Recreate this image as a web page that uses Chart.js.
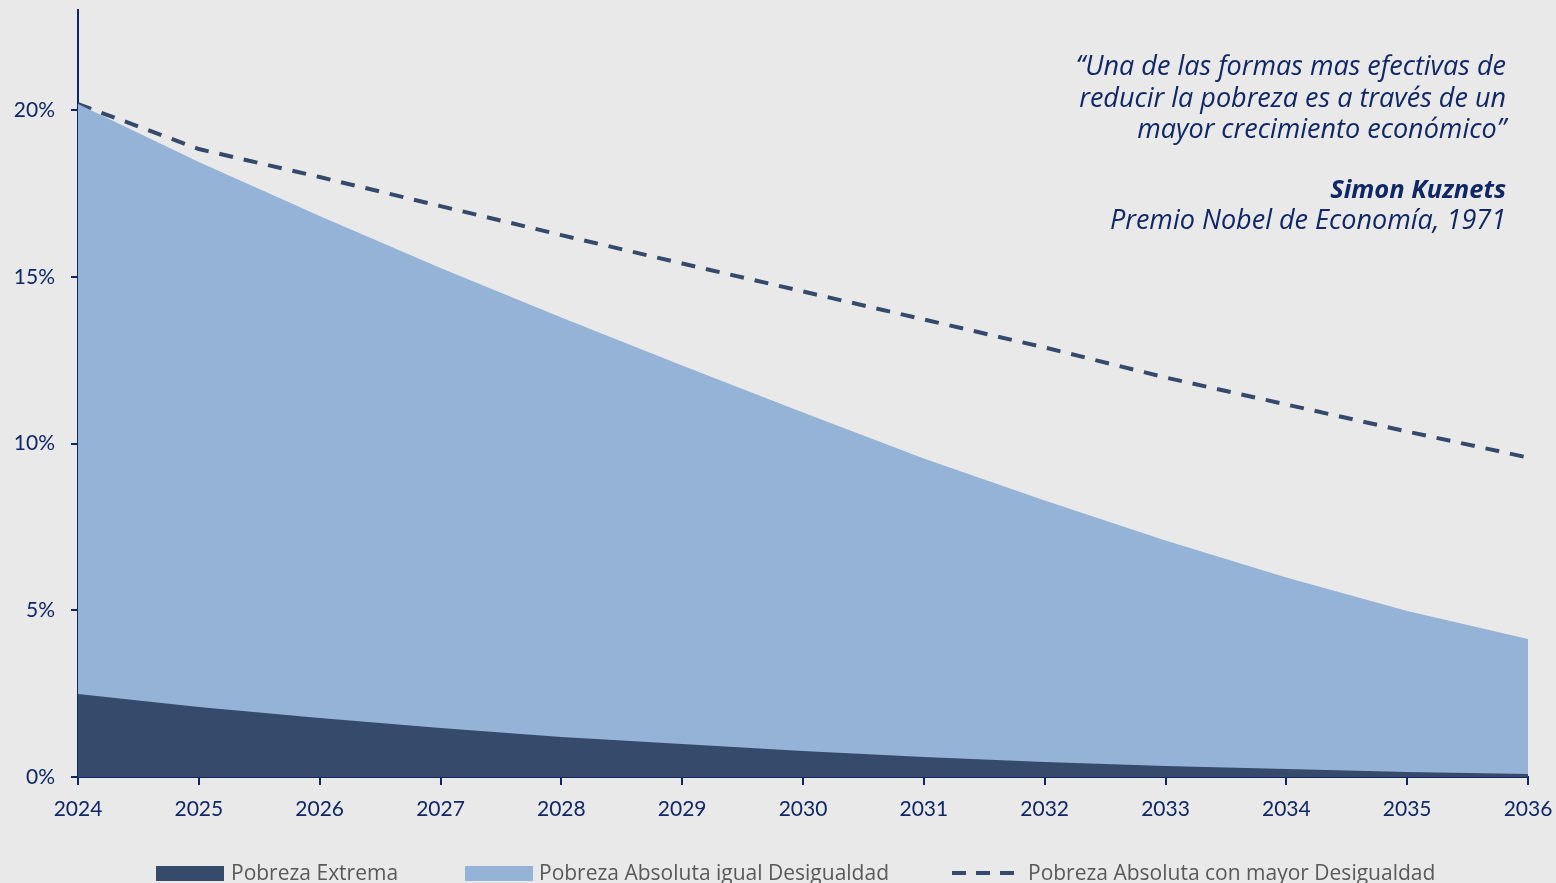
<!DOCTYPE html>
<html>
<head>
<meta charset="utf-8">
<script src="https://cdn.jsdelivr.net/npm/chart.js@4"></script>
<style>
  html, body { margin: 0; padding: 0; background: #E9E9E9; }
  #wrap { width: 1556px; height: 883px; position: relative; }
</style>
</head>
<body>
<div id="wrap"><canvas id="c" width="1556" height="883"></canvas></div>
<script>
const years = ['2024','2025','2026','2027','2028','2029','2030','2031','2032','2033','2034','2035','2036'];
const pobrezaExtrema = [2.49, 2.10, 1.77, 1.47, 1.20, 0.99, 0.78, 0.60, 0.45, 0.33, 0.24, 0.15, 0.09];
const pobrezaAbsIgual = [20.18, 18.44, 16.82, 15.26, 13.78, 12.34, 10.93, 9.55, 8.29, 7.09, 5.98, 4.98, 4.14];
const pobrezaAbsMayor = [20.18, 18.83, 17.99, 17.12, 16.25, 15.40, 14.56, 13.72, 12.88, 11.98, 11.17, 10.36, 9.58];
const seriesLabels = ['Pobreza Extrema', 'Pobreza Absoluta igual Desigualdad', 'Pobreza Absoluta con mayor Desigualdad'];
const yTickValues = [0, 5, 10, 15, 20];
const quoteLines = ['\u201CUna de las formas mas efectivas de', 'reducir la pobreza es a trav\u00E9s de un', 'mayor crecimiento econ\u00F3mico\u201D'];
const authorName = 'Simon Kuznets';
const authorTitle = 'Premio Nobel de Econom\u00EDa, 1971';

const NAVY = '#0F2766';
const FONT = 'Lato, "Open Sans", sans-serif';
const QFONT = '"Open Sans", Lato, sans-serif';

const bgPlugin = {
  id: 'bg',
  beforeDraw(chart) {
    const ctx = chart.ctx;
    ctx.save();
    ctx.fillStyle = '#E9E9E9';
    ctx.fillRect(0, 0, chart.width, chart.height);
    ctx.restore();
  }
};

const quotePlugin = {
  id: 'quote',
  afterDraw(chart) {
    const ctx = chart.ctx;
    ctx.save();
    ctx.fillStyle = '#0F2766';
    ctx.textAlign = 'right';
    ctx.textBaseline = 'alphabetic';
    const xr = 1506;
    ctx.font = 'italic 27px ' + QFONT;
    quoteLines.forEach((l, i) => ctx.fillText(l, xr, 75 + i * 31.5));
    ctx.font = 'italic bold 25.5px ' + QFONT;
    ctx.fillText(authorName, xr, 198);
    ctx.font = 'italic 27px ' + QFONT;
    ctx.fillText(authorTitle, xr, 229);
    ctx.restore();
  }
};

const legendPlugin = {
  id: 'customLegend',
  afterDraw(chart) {
    const ctx = chart.ctx;
    const ds = chart.data.datasets;
    const items = [
      { x: 156, tx: 231, type: 'box', color: ds[0].backgroundColor, text: ds[0].label },
      { x: 465, tx: 539, type: 'box', color: ds[1].backgroundColor, text: ds[1].label },
      { x: 952, tx: 1028, type: 'line', color: ds[2].borderColor, text: ds[2].label }
    ];
    ctx.save();
    ctx.font = '21px ' + QFONT;
    ctx.textBaseline = 'middle';
    ctx.textAlign = 'left';
    items.forEach(it => {
      if (it.type === 'box') {
        ctx.fillStyle = it.color;
        ctx.fillRect(it.x, 866, 68, 15);
      } else {
        ctx.strokeStyle = it.color;
        ctx.lineWidth = 4;
        ctx.setLineDash([14, 10]);
        ctx.beginPath();
        ctx.moveTo(it.x, 873);
        ctx.lineTo(it.x + 70, 873);
        ctx.stroke();
        ctx.setLineDash([]);
      }
      ctx.fillStyle = '#595959';
      ctx.fillText(it.text, it.tx, 874);
    });
    ctx.restore();
  }
};

new Chart(document.getElementById('c'), {
  type: 'line',
  data: {
    labels: years,
    datasets: [
      {
        label: seriesLabels[0],
        data: pobrezaExtrema,
        backgroundColor: '#364A6C',
        borderColor: '#364A6C',
        borderWidth: 0,
        pointRadius: 0,
        fill: 'origin',
        tension: 0
      },
      {
        label: seriesLabels[1],
        data: pobrezaAbsIgual,
        backgroundColor: '#95B3D7',
        borderColor: '#95B3D7',
        borderWidth: 0,
        pointRadius: 0,
        fill: 'origin',
        tension: 0
      },
      {
        label: seriesLabels[2],
        data: pobrezaAbsMayor,
        borderColor: '#34496B',
        backgroundColor: 'transparent',
        borderWidth: 4,
        borderDash: [14, 11],
        pointRadius: 0,
        fill: false,
        tension: 0
      }
    ]
  },
  options: {
    responsive: false,
    animation: false,
    layout: { padding: { top: 10, right: 28, left: 0, bottom: 0 } },
    plugins: {
      legend: { display: false },
      tooltip: { enabled: false }
    },
    scales: {
      x: {
        type: 'category',
        offset: false,
        grid: { drawOnChartArea: false, drawTicks: true, tickLength: 8, color: NAVY, lineWidth: 2 },
        border: { display: true, color: NAVY, width: 2 },
        ticks: { color: NAVY, font: { family: FONT, size: 21 }, padding: 12, maxRotation: 0, autoSkip: false },
        afterFit(scale) { scale.height = 106; scale.paddingLeft = 0; scale.paddingRight = 0; }
      },
      y: {
        min: 0,
        max: 23,
        grid: { drawOnChartArea: false, drawTicks: true, tickLength: 7, color: NAVY, lineWidth: 2 },
        border: { display: true, color: NAVY, width: 2 },
        ticks: {
          color: NAVY,
          font: { family: FONT, size: 21 },
          padding: 16,
          callback: v => v + '%'
        },
        afterBuildTicks(scale) {
          scale.ticks = yTickValues.map(v => ({ value: v }));
        },
        afterFit(scale) { scale.width = 78; scale.paddingTop = 0; scale.paddingBottom = 0; }
      }
    }
  },
  plugins: [bgPlugin, quotePlugin, legendPlugin]
});
</script>
</body>
</html>
